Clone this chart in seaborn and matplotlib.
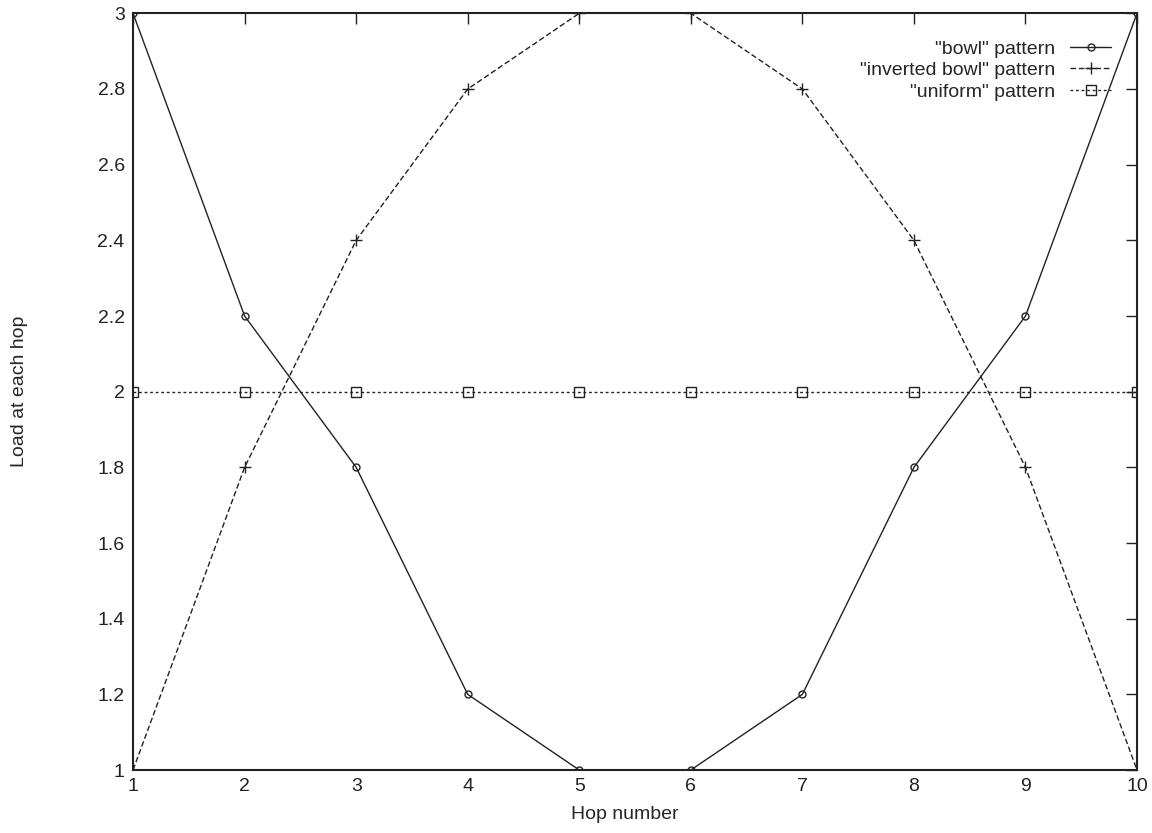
import numpy as np
import pandas as pd
import seaborn as sns
import matplotlib.pyplot as plt

hops = [1, 2, 3, 4, 5, 6, 7, 8, 9, 10]
bowl = [3, 2.2, 1.8, 1.2, 1, 1, 1.2, 1.8, 2.2, 3]
inverted_bowl = [1, 1.8, 2.4, 2.8, 3, 3, 2.8, 2.4, 1.8, 1]
uniform = [2, 2, 2, 2, 2, 2, 2, 2, 2, 2]

series_names = ['"bowl" pattern', '"inverted bowl" pattern', '"uniform" pattern']
y_ticks = [1, 1.2, 1.4, 1.6, 1.8, 2, 2.2, 2.4, 2.6, 2.8, 3]

sns.set_style('white')
plt.rcParams['font.family'] = ['Liberation Sans', 'DejaVu Sans']

fig = plt.figure(figsize=(11.52, 8.33), dpi=100)
ax = fig.add_axes([0.1155, 0.0756, 0.8715, 0.9084])

# gnuplot-like line/marker styles
styles = [
    dict(linestyle='-', marker='o', markersize=5, markerfacecolor='none'),
    dict(linestyle=(0, (4, 2)), marker='+', markersize=8),
    dict(linestyle=(0, (2, 2)), marker='s', markersize=7, markerfacecolor='none'),
]
for name, vals, st in zip(series_names, [bowl, inverted_bowl, uniform], styles):
    sns.lineplot(x=hops, y=vals, ax=ax, color='#222222', linewidth=1.0,
                 markeredgecolor='#222222', markeredgewidth=1.0, label=name, **st)

ax.set_xlim(1, 10)
ax.set_ylim(1, 3)
ax.set_xticks(hops)
ax.set_yticks(y_ticks)
ax.set_yticklabels([f'{t:g}' for t in y_ticks])
ax.tick_params(direction='in', length=8, width=1, top=True, right=True,
               labelsize=14, pad=6, colors='#222222')
for s in ax.spines.values():
    s.set_linewidth(1.5)
    s.set_color('#222222')

ax.set_xlabel('Hop number', fontsize=14)
ax.set_ylabel('Load at each hop', fontsize=14)
ax.xaxis.set_label_coords(0.49, -0.047)
ax.yaxis.set_label_coords(-0.105, 0.5)

ax.legend(loc='upper right', frameon=False, markerfirst=False, fontsize=14,
          handlelength=2.1, labelspacing=0.2, borderaxespad=0.0,
          bbox_to_anchor=(0.982, 0.975))

fig.savefig('out.png', dpi=100)
